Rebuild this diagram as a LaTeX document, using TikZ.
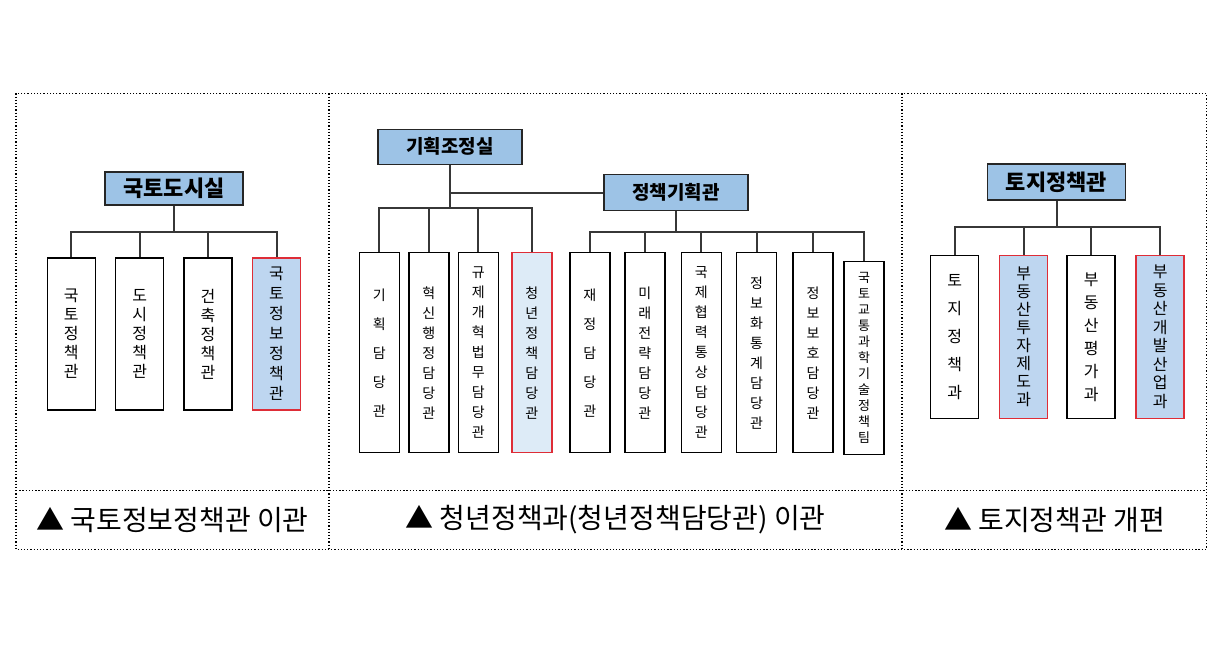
\documentclass[tikz,border=0pt]{standalone}
\usepackage{fontspec}
\newfontfamily\kr{Noto Sans CJK KR}
\usetikzlibrary{positioning}

\definecolor{hqblue}{RGB}{157,195,230}
\definecolor{newblue}{RGB}{190,214,240}
\definecolor{paleblue}{RGB}{221,235,247}
\definecolor{newred}{RGB}{222,45,55}
\definecolor{linegray}{RGB}{55,55,55}

\begin{document}
\begin{tikzpicture}[
    x=1pt, y=-1pt,
    hq/.style={rectangle, draw=black!85, line width=1.4pt, fill=hqblue, inner sep=0pt, font=\kr\bfseries\fontsize{22}{22}\selectfont},
    hqsmall/.style={hq, font=\kr\bfseries\fontsize{19}{19}\selectfont},
    unit/.style={rectangle, draw=black, line width=1.4pt, fill=white, inner sep=0pt, align=center, minimum width=48pt},
    moved/.style={unit, draw=newred, fill=newblue},
    vt/.style 2 args={font={\kr\fontsize{#1}{#2}\selectfont}},
    conn/.style={draw=linegray, line width=2pt},
    grid/.style={line width=1.3pt, dash pattern=on 1.3pt off 1.9pt},
    caption/.style={font=\kr\fontsize{28}{28}\selectfont}
    ]
    \useasboundingbox (0,0) rectangle (1223,648);

    % Frame of the table
    \draw[grid] (16,93.3) rectangle (1206.3,549.3);
    \draw[grid] (329,93.3) -- (329,549.3);
    \draw[grid] (902,93.3) -- (902,549.3);
    \draw[grid] (16,490.7) -- (1206.3,490.7);

    % Panel 1
    \node[hq, minimum width=138pt, minimum height=33pt] (hqA) at (174,188.5) {국토도시실};
    \node[unit, vt={16}{19}, minimum height=152pt] (a1) at (71.3,334) {국\\토\\정\\책\\관};
    \node[unit, vt={16}{19}, minimum height=152pt, right=19pt of a1] (a2) {도\\시\\정\\책\\관};
    \node[unit, vt={16}{19}, minimum height=152pt, right=19pt of a2] (a3) {건\\축\\정\\책\\관};
    \node[moved, vt={16}{20}, minimum height=152pt, right=19pt of a3] (a4) {국\\토\\정\\보\\정\\책\\관};

    \coordinate (busA) at (0,231.7);
    \foreach \c in {a1,a2,a3,a4}
        \draw[conn] (hqA.south) -- (hqA.south |- busA) -| (\c.north);

    % Panel 2
    \node[hqsmall, minimum width=144pt, minimum height=35pt] (hqB) at (450,146.7) {기획조정실};
    \node[hqsmall, minimum width=144pt, minimum height=36pt] (pol) at (676,192.5) {정책기획관};
    \node[unit, vt={14}{29}, minimum width=40pt, minimum height=200pt] (b1) at (379.3,352.7) {기\\획\\담\\당\\관};
    \node[unit, vt={14}{20}, minimum width=40pt, minimum height=200pt, right=8.2pt of b1] (b2) {혁\\신\\행\\정\\담\\당\\관};
    \node[unit, vt={14}{20}, minimum width=40pt, minimum height=200pt, right=8pt of b2] (b3) {규\\제\\개\\혁\\법\\무\\담\\당\\관};
    \node[moved, vt={14}{20}, fill=paleblue, minimum width=40pt, minimum height=200pt, right=12.2pt of b3] (b4) {청\\년\\정\\책\\담\\당\\관};
    \node[unit, vt={14}{29}, minimum width=40pt, minimum height=200pt, right=16.6pt of b4] (b5) {재\\정\\담\\당\\관};
    \node[unit, vt={14}{20}, minimum width=40pt, minimum height=200pt, right=13.5pt of b5] (b6) {미\\래\\전\\략\\담\\당\\관};
    \node[unit, vt={14}{20}, minimum width=40pt, minimum height=200pt, right=15.2pt of b6] (b7) {국\\제\\협\\력\\통\\상\\담\\당\\관};
    \node[unit, vt={14}{20}, minimum width=40pt, minimum height=200pt, right=13.8pt of b7] (b8) {정\\보\\화\\통\\계\\담\\당\\관};
    \node[unit, vt={14}{20}, minimum width=40pt, minimum height=200pt, right=15pt of b8] (b9) {정\\보\\보\\호\\담\\당\\관};
    \node[unit, vt={13}{16}, minimum width=40pt, minimum height=192.6pt, right=9.6pt of b9, yshift=-5.3pt] (b10) {국\\토\\교\\통\\과\\학\\기\\술\\정\\책\\팀};

    \coordinate (busB) at (0,208.3);
    \coordinate (busC) at (0,231.7);
    \draw[conn] (hqB.south) |- (pol.west);
    \foreach \c in {b1,b2,b3,b4}
        \draw[conn] (hqB.south) -- (hqB.south |- busB) -| (\c.north);
    \foreach \c in {b5,b6,b7,b8,b9,b10}
        \draw[conn] (pol.south) -- (pol.south |- busC) -| (\c.north);

    % Panel 3
    \node[hq, minimum width=138pt, minimum height=36pt] (hqC) at (1056.5,182) {토지정책관};
    \node[unit, vt={16}{28}, minimum height=162.6pt] (c1) at (954.7,337) {토\\지\\정\\책\\과};
    \node[moved, vt={16}{18}, minimum height=162.6pt, right=19.6pt of c1] (c2) {부\\동\\산\\투\\자\\제\\도\\과};
    \node[unit, vt={16}{23}, minimum height=162.6pt, right=18pt of c2] (c3) {부\\동\\산\\평\\가\\과};
    \node[moved, vt={16}{18.5}, minimum height=162.6pt, right=19.6pt of c3] (c4) {부\\동\\산\\개\\발\\산\\업\\과};

    \coordinate (busD) at (0,227.3);
    \foreach \c in {c1,c2,c3,c4}
        \draw[conn] (hqC.south) -- (hqC.south |- busD) -| (\c.north);

    % Captions
    \node[caption] (capA) at (172.5,520) {▲ 국토정보정책관 이관};
    \node[caption] (capB) at (615.5,520) {▲ 청년정책과(청년정책담당관) 이관};
    \node[caption] (capC) at (1054.5,520) {▲ 토지정책관 개편};

\end{tikzpicture}
\end{document}
